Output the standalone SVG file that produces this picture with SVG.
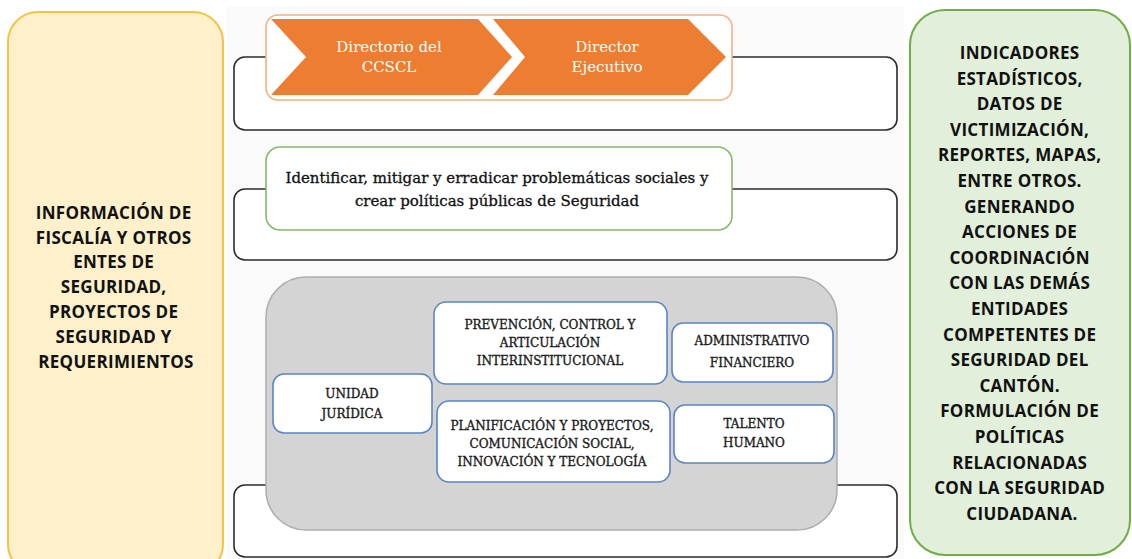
<svg xmlns="http://www.w3.org/2000/svg" width="1132" height="559" viewBox="0 0 1132 559">
<style>
.side{font-family:"Open Sans","Liberation Sans",sans-serif;font-weight:700;font-size:17px;letter-spacing:0.3px;fill:#111;text-anchor:middle}
.ser{font-family:"DejaVu Serif","Liberation Serif",serif;text-anchor:middle}
.chev{fill:#ED7D31}
.chevt{font-size:15px;fill:#fff}
.bracket{fill:#fff;stroke:#2b2b2b;stroke-width:1.6}
.unit{fill:#fff;stroke:#5B84C6;stroke-width:1.6}
.unitt{font-size:12px;fill:#1a1a1a;stroke:#1a1a1a;stroke-width:0.35}
.mis{font-size:15px;fill:#111;stroke:#111;stroke-width:0.3}
</style>
<rect x="0" y="0" width="1132" height="559" fill="#fff"/>
<rect x="226" y="6" width="678" height="553" fill="#FAFAFA"/>

<g id="left-panel">
<rect x="8" y="12" width="215" height="562" rx="30" fill="#FDF0CA" stroke="#F5C343" stroke-width="2"/>
<text class="side">
<tspan x="116" y="219">INFORMACIÓN DE</tspan>
<tspan x="116" y="244">FISCALÍA Y OTROS</tspan>
<tspan x="116" y="268">ENTES DE</tspan>
<tspan x="116" y="293">SEGURIDAD,</tspan>
<tspan x="116" y="318">PROYECTOS DE</tspan>
<tspan x="116" y="343">SEGURIDAD Y</tspan>
<tspan x="116" y="368">REQUERIMIENTOS</tspan>
</text>
</g>

<g id="right-panel">
<rect x="910" y="10" width="220" height="545" rx="35" fill="#E2EFDA" stroke="#70AD47" stroke-width="2"/>
<text class="side">
<tspan x="1022" y="59">INDICADORES</tspan>
<tspan x="1022" y="84.6">ESTADÍSTICOS,</tspan>
<tspan x="1022" y="110.2">DATOS DE</tspan>
<tspan x="1022" y="135.8">VICTIMIZACIÓN,</tspan>
<tspan x="1022" y="161.4">REPORTES, MAPAS,</tspan>
<tspan x="1022" y="187">ENTRE OTROS.</tspan>
<tspan x="1022" y="212.6">GENERANDO</tspan>
<tspan x="1022" y="238.2">ACCIONES DE</tspan>
<tspan x="1022" y="263.8">COORDINACIÓN</tspan>
<tspan x="1022" y="289.4">CON LAS DEMÁS</tspan>
<tspan x="1022" y="315">ENTIDADES</tspan>
<tspan x="1022" y="340.6">COMPETENTES DE</tspan>
<tspan x="1022" y="366.2">SEGURIDAD DEL</tspan>
<tspan x="1022" y="391.8">CANTÓN.</tspan>
<tspan x="1022" y="417.4">FORMULACIÓN DE</tspan>
<tspan x="1022" y="443">POLÍTICAS</tspan>
<tspan x="1022" y="468.6">RELACIONADAS</tspan>
<tspan x="1022" y="494.2">CON LA SEGURIDAD</tspan>
<tspan x="1022" y="519.8">CIUDADANA.</tspan>
</text>
</g>

<g id="brackets">
<rect class="bracket" x="234" y="57" width="663" height="73" rx="11"/>
<rect class="bracket" x="234" y="189" width="663" height="71" rx="11"/>
<rect class="bracket" x="234" y="485" width="663" height="72" rx="11"/>
</g>

<g id="leadership">
<rect x="266" y="15" width="466" height="85" rx="12" fill="#fff" stroke="#F4B183" stroke-width="1.6"/>
<g id="directorio">
<polygon class="chev" points="271,19 478,19 512,57 478,95 271,95 306,57"/>
<text class="ser chevt"><tspan x="389" y="52">Directorio del</tspan><tspan x="389" y="72">CCSCL</tspan></text>
</g>
<g id="director">
<polygon class="chev" points="493,19 688,19 726,57 688,95 493,95 525,57"/>
<text class="ser chevt"><tspan x="607" y="52">Director</tspan><tspan x="607" y="72">Ejecutivo</tspan></text>
</g>
</g>

<g id="mission">
<rect x="266" y="147" width="466" height="83" rx="14" fill="#fff" stroke="#86B96A" stroke-width="1.6"/>
<text class="ser mis"><tspan x="497" y="183">Identificar, mitigar y erradicar problemáticas sociales y</tspan><tspan x="497" y="206">crear políticas públicas de Seguridad</tspan></text>
</g>

<g id="units">
<rect x="266" y="277" width="571" height="253" rx="40" fill="#D4D4D4" stroke="#ADADAD" stroke-width="1.5"/>
<g id="unidad-juridica">
<rect class="unit" x="273" y="374" width="159" height="59" rx="11"/>
<text class="ser unitt"><tspan x="352" y="398">UNIDAD</tspan><tspan x="352" y="418">JURÍDICA</tspan></text>
</g>
<g id="prevencion">
<rect class="unit" x="434" y="302" width="233" height="82" rx="12"/>
<text class="ser unitt"><tspan x="550" y="329">PREVENCIÓN, CONTROL Y</tspan><tspan x="550" y="347">ARTICULACIÓN</tspan><tspan x="550" y="365">INTERINSTITUCIONAL</tspan></text>
</g>
<g id="planificacion">
<rect class="unit" x="437" y="401" width="233" height="81" rx="12"/>
<text class="ser unitt"><tspan x="552" y="430">PLANIFICACIÓN Y PROYECTOS,</tspan><tspan x="552" y="448">COMUNICACIÓN SOCIAL,</tspan><tspan x="552" y="466">INNOVACIÓN Y TECNOLOGÍA</tspan></text>
</g>
<g id="administrativo">
<rect class="unit" x="672" y="323" width="161" height="59" rx="11"/>
<text class="ser unitt"><tspan x="752" y="345">ADMINISTRATIVO</tspan><tspan x="752" y="367">FINANCIERO</tspan></text>
</g>
<g id="talento">
<rect class="unit" x="674" y="405" width="160" height="58" rx="11"/>
<text class="ser unitt"><tspan x="754" y="428">TALENTO</tspan><tspan x="754" y="447">HUMANO</tspan></text>
</g>
</g>
</svg>
